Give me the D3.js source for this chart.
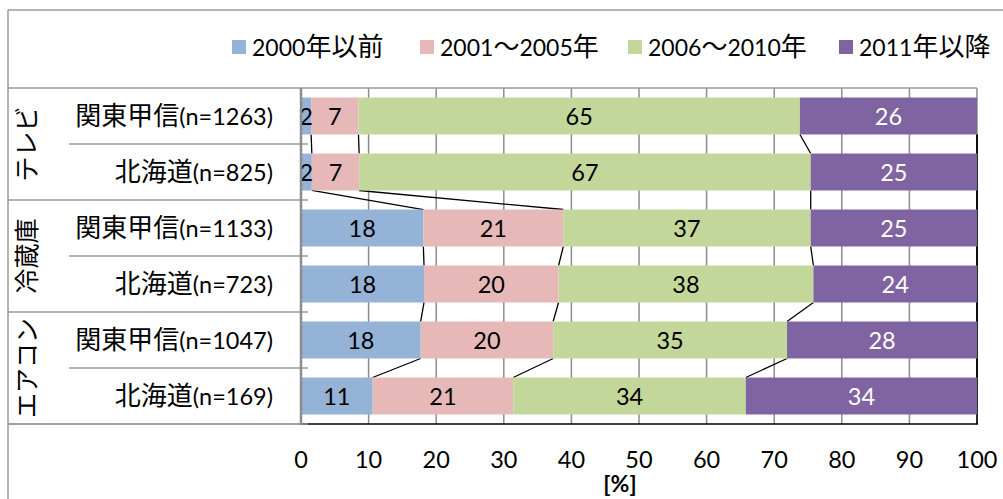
<!DOCTYPE html>
<html><head><meta charset="utf-8">
<script src="https://cdn.jsdelivr.net/npm/d3@7"></script>
<style>html,body{margin:0;padding:0;background:#fff;} svg{display:block;}</style>
</head><body>
<svg id="chart" width="1003" height="499"></svg>
<script>
// ---- data ----
const groups = ["テレビ", "冷蔵庫", "エアコン"];
const rowGroups = ["テレビ", "テレビ", "冷蔵庫", "冷蔵庫", "エアコン", "エアコン"];
const rowLabels = ["関東甲信(n=1263)", "北海道(n=825)", "関東甲信(n=1133)", "北海道(n=723)", "関東甲信(n=1047)", "北海道(n=169)"];
const seriesNames = ["2000年以前", "2001～2005年", "2006～2010年", "2011年以降"];
const v2000 = [1.5, 1.6, 18.1, 18.2, 17.7, 10.6];
const v2001 = [7.0, 7.0, 20.7, 19.9, 19.6, 20.8];
const v2006 = [65.3, 66.8, 36.6, 37.7, 34.6, 34.4];
const v2011 = [26.2, 24.6, 24.6, 24.2, 28.1, 34.2];
const xTicks = [0, 10, 20, 30, 40, 50, 60, 70, 80, 90, 100];
const axisTitle = "[%]";
const colors = ["#95b3d7", "#e6b9b8", "#c4d79b", "#8064a2"];

const seriesValues = [v2000, v2001, v2006, v2011];
const rows = rowLabels.map((lab, i) => {
  const r = {id: i, label: lab, group: rowGroups[i]};
  seriesNames.forEach((s, k) => r[s] = seriesValues[k][i]);
  return r;
});

const svg = d3.select("#chart");
const CJK = "'Noto Sans CJK JP', sans-serif";
const LAT = "Lato, 'Noto Sans', sans-serif";
const cjkRe = /[\u3000-\u9fff\uff00-\uffef]+|[^\u3000-\u9fff\uff00-\uffef]+/g;
function rich(t, str, cjkSize, latSize) {
  (str.match(cjkRe) || []).forEach(run => {
    const isC = /[\u3000-\u9fff\uff00-\uffef]/.test(run);
    t.append("tspan").text(run)
      .attr("font-family", isC ? CJK : LAT)
      .attr("font-size", isC ? cjkSize : latSize);
  });
  return t;
}

const L = 301, R = 977, T = 88, B = 424;
const x = d3.scaleLinear().domain([0, 100]).range([L, R]);
const y = d3.scaleBand().domain(rows.map(r => r.id)).range([T, B]).paddingInner(0.34).paddingOuter(0.17);
const step = y.step();

const stack = d3.stack().keys(seriesNames);
const stacked = stack(rows);

const frame = "#9a9a9a";
// outer frame
svg.append("line").attr("x1", 8).attr("x2", 1003).attr("y1", 10).attr("y2", 10).attr("stroke", frame).attr("stroke-width", 1.5);
svg.append("line").attr("x1", 8).attr("x2", 8).attr("y1", 10).attr("y2", 499).attr("stroke", frame).attr("stroke-width", 1.5);

// gridlines
svg.append("g").selectAll("line").data(xTicks.filter(t => t > 0)).join("line")
  .attr("x1", d => x(d)).attr("x2", d => x(d)).attr("y1", T).attr("y2", B)
  .attr("stroke", "#8c8c8c").attr("stroke-width", 1.5);

// table lines
svg.append("line").attr("x1", 8).attr("x2", R).attr("y1", T).attr("y2", T).attr("stroke", frame).attr("stroke-width", 1.5);
const groupEdges = groups.map((g, gi) => T + step * 2 * (gi + 1));
svg.append("g").selectAll("line").data(groupEdges).join("line")
  .attr("x1", 8).attr("x2", 308).attr("y1", d => d).attr("y2", d => d)
  .attr("stroke", frame).attr("stroke-width", 1.5);
const subEdges = groups.map((g, gi) => T + step * (2 * gi + 1));
svg.append("g").selectAll("line").data(subEdges).join("line")
  .attr("x1", 69).attr("x2", 308).attr("y1", d => d).attr("y2", d => d)
  .attr("stroke", frame).attr("stroke-width", 1.5);

// right edge below/between bars
svg.append("line").attr("x1", x(100)).attr("x2", x(100))
  .attr("y1", y(0) + y.bandwidth()).attr("y2", B).attr("stroke", "#000").attr("stroke-width", 1.5);

// series lines
const seriesLines = [];
stacked.forEach((s, k) => {
  for (let i = 0; i < rows.length - 1; i++) {
    seriesLines.push({x1: s[i][1], y1: y(i) + y.bandwidth(), x2: s[i + 1][1], y2: y(i + 1)});
  }
});
svg.append("g").selectAll("line").data(seriesLines).join("line")
  .attr("x1", d => x(d.x1)).attr("x2", d => x(d.x2)).attr("y1", d => d.y1).attr("y2", d => d.y2)
  .attr("stroke", "#000").attr("stroke-width", 1.3);

// bars
const sg = svg.append("g").selectAll("g").data(stacked).join("g").attr("fill", (d, k) => colors[k]);
sg.selectAll("rect").data(d => d).join("rect")
  .attr("x", d => x(d[0])).attr("width", d => x(d[1]) - x(d[0]))
  .attr("y", (d, i) => y(i)).attr("height", y.bandwidth());

// bar labels
const lg = svg.append("g");
stacked.forEach((s, k) => {
  lg.selectAll(null).data(s).join("text")
    .attr("x", d => x((d[0] + d[1]) / 2)).attr("y", (d, i) => y(i) + y.bandwidth() / 2 + 8.5)
    .attr("text-anchor", "middle").attr("font-family", LAT).attr("font-size", 23.5)
    .attr("fill", k === 3 ? "#fff" : "#000")
    .text(d => Math.round(d[1] - d[0]));
});

// axes lines
svg.append("line").attr("x1", L).attr("x2", R + 1).attr("y1", B).attr("y2", B).attr("stroke", "#000").attr("stroke-width", 1.5);
svg.append("line").attr("x1", 8).attr("x2", 308).attr("y1", B).attr("y2", B).attr("stroke", frame).attr("stroke-width", 1.5);
svg.append("line").attr("x1", L).attr("x2", L).attr("y1", T).attr("y2", B + 1).attr("stroke", "#8c8c8c").attr("stroke-width", 2.5);

// x tick labels
svg.append("g").selectAll("text").data(xTicks).join("text")
  .attr("x", d => x(d)).attr("y", 468).attr("text-anchor", "middle")
  .attr("font-family", LAT).attr("font-size", 23.5).attr("fill", "#000").text(d => d);
svg.append("text").attr("x", 620).attr("y", 492).attr("text-anchor", "middle")
  .attr("font-family", LAT).attr("font-weight", "bold").attr("font-size", 23).text(axisTitle);

// row labels
rows.forEach((r, i) => {
  const t = svg.append("text").attr("x", 273).attr("y", y(i) + y.bandwidth() / 2 + 9).attr("text-anchor", "end").attr("fill", "#000");
  rich(t, r.label, 26, 23.5);
});

// group labels
groups.forEach((g, gi) => {
  const cy = T + step * (2 * gi + 1);
  svg.append("text").attr("transform", `translate(36,${cy}) rotate(-90)`)
    .attr("text-anchor", "middle").attr("font-family", CJK).attr("font-size", 25).attr("fill", "#000").text(g);
});

// legend
const legendX = [232, 420, 628, 839];
const ly = 47;
seriesNames.forEach((s, k) => {
  svg.append("rect").attr("x", legendX[k]).attr("y", ly - 7).attr("width", 14).attr("height", 14).attr("fill", colors[k]);
  const t = svg.append("text").attr("x", legendX[k] + 20).attr("y", ly + 9).attr("fill", "#000");
  rich(t, s, 26, 23);
});
</script>
</body></html>
